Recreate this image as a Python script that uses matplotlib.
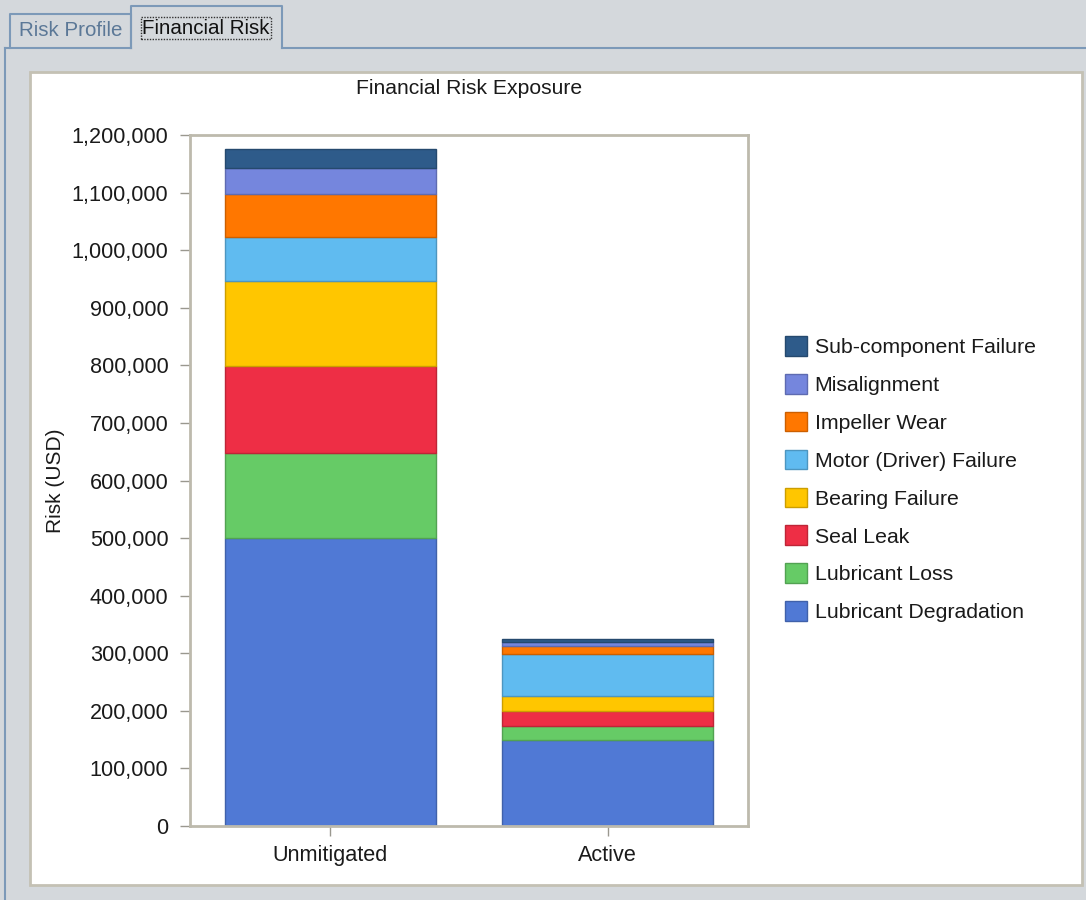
import matplotlib
matplotlib.use("Agg")
import matplotlib.pyplot as plt
import matplotlib.patches as mpatches
from matplotlib.colors import to_rgb
from matplotlib.ticker import FuncFormatter
import numpy as np

# ---------------------------------------------------------------------------
#  Data
# ---------------------------------------------------------------------------
scenarios = ["Unmitigated", "Active"]

causes = [
    "Lubricant Degradation",
    "Lubricant Loss",
    "Seal Leak",
    "Bearing Failure",
    "Motor (Driver) Failure",
    "Impeller Wear",
    "Misalignment",
    "Sub-component Failure",
]

lubricant_degradation = [500000, 150000]
lubricant_loss        = [148000, 24000]
seal_leak             = [150000, 25000]
bearing_failure       = [149000, 27000]
motor_failure         = [76000, 73000]
impeller_wear         = [74000, 14000]
misalignment          = [45000, 7000]
subcomponent_failure  = [34000, 5000]

series = [lubricant_degradation, lubricant_loss, seal_leak, bearing_failure,
          motor_failure, impeller_wear, misalignment, subcomponent_failure]

colors = ["#5079D5", "#66CB66", "#EE2E45", "#FFC600",
          "#60BBF0", "#FF7700", "#7586DD", "#2E5B8A"]

W, H = 1086, 900
FONT = "Liberation Sans"
TEXT = "#1a1a1a"
plt.rcParams["font.family"] = [FONT, "DejaVu Sans"]

fig = plt.figure(figsize=(W / 100, H / 100), dpi=100)
fig.patch.set_facecolor("#D4D8DC")


def px_rect(x0, y0, x1, y1, **kw):
    """Rectangle given in screenshot pixel coords (origin top-left)."""
    r = mpatches.Rectangle((x0 / W, 1 - y1 / H), (x1 - x0) / W, (y1 - y0) / H,
                           transform=fig.transFigure, **kw)
    fig.add_artist(r)
    return r


def px_line(xs, ys, **kw):
    ln = plt.Line2D([x / W for x in xs], [1 - y / H for y in ys],
                    transform=fig.transFigure, **kw)
    fig.add_artist(ln)


# ---- window chrome: tabs + panels ----
TAB_EDGE = "#7C99B8"
px_line([5, 131], [48, 48], color=TAB_EDGE, lw=1.5)
px_line([282, W], [48, 48], color=TAB_EDGE, lw=1.5)
px_line([5, 5], [48, H], color=TAB_EDGE, lw=1.5)
px_line([10, 10, 131, 131], [48, 14, 14, 48], color=TAB_EDGE, lw=1.5)
px_line([131, 131, 282, 282], [48, 6, 6, 48], color=TAB_EDGE, lw=1.5)
fig.text(71 / W, 1 - 31 / H, "Risk Profile", ha="center", va="center",
         fontsize=14.8, color="#5B7897", family=FONT)
fig.text(206 / W, 1 - 28 / H, "Financial Risk", ha="center", va="center",
         fontsize=14.8, color="#111111", family=FONT,
         bbox=dict(boxstyle="square,pad=0.05", fc="none", ec="#333333",
                   ls=(0, (1, 1)), lw=1))

# inner white chart panel
px_rect(30, 72, 1082, 885, facecolor="white", edgecolor="#C4C1B4", lw=2,
        zorder=0)

# ---- axes ----
ax = fig.add_axes([190 / W, 1 - 826 / H, (748 - 190) / W, (826 - 135) / H])
ax.set_facecolor("white")

x = np.arange(len(scenarios))
bottom = np.zeros(len(scenarios))
handles = []
for name, vals, col in zip(causes, series, colors):
    edge = tuple(c * 0.8 for c in to_rgb(col))
    b = ax.bar(x, vals, width=0.76, bottom=bottom, color=col, edgecolor=edge,
               linewidth=1, label=name, zorder=2)
    handles.append(b)
    bottom += np.array(vals)

ax.set_xlim(-0.505, 1.505)
ax.set_ylim(0, 1200000)
ax.set_yticks(np.arange(0, 1200001, 100000))
ax.yaxis.set_major_formatter(FuncFormatter(lambda v, _: f"{int(v):,}"))
ax.set_xticks(x)
ax.set_xticklabels(scenarios)

for sp in ax.spines.values():
    sp.set_color("#BDBAAD")
    sp.set_linewidth(2)
ax.tick_params(axis="both", colors="#9a988f", length=7, width=1,
               labelcolor=TEXT, labelsize=15.6)
ax.tick_params(axis="y", pad=8.5)
ax.tick_params(axis="x", pad=7)

ax.set_ylabel("Risk (USD)", fontsize=15, color=TEXT, labelpad=5)
fig.text(469 / W, 1 - 88 / H, "Financial Risk Exposure", ha="center",
         va="center", fontsize=15.2, color=TEXT)

leg = fig.legend(handles[::-1], causes[::-1], loc="upper left",
                 bbox_to_anchor=(785 / W, 1 - 336 / H), frameon=False,
                 fontsize=15.3, handlelength=1.05, handleheight=1.05,
                 labelspacing=0.79, handletextpad=0.35, borderpad=0,
                 borderaxespad=0)
for t in leg.get_texts():
    t.set_color(TEXT)

fig.savefig("out.png", dpi=100, facecolor=fig.get_facecolor())
